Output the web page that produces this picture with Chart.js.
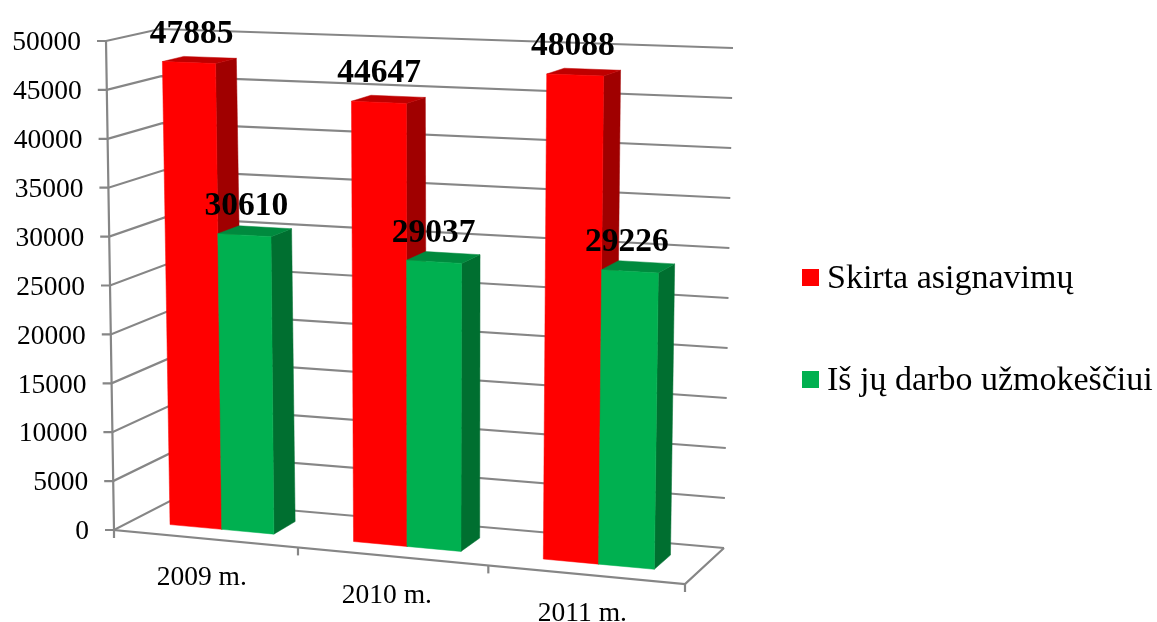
<!DOCTYPE html>
<html><head><meta charset="utf-8">
<style>html,body{margin:0;padding:0;background:#fff}#wrap{width:1157px;height:622px}</style>
<script src="https://cdn.jsdelivr.net/npm/chart.js@4"></script>
</head><body><div id="wrap"><canvas id="c" width="1157" height="622"></canvas></div>
<script>
const categories = ['2009 m.', '2010 m.', '2011 m.'];
const seriesNames = ['Skirta asignavimų', 'Iš jų darbo užmokeščiui'];
const allocated = [47885, 44647, 48088];
const wages = [30610, 29037, 29226];

// Colours: [front, side, top]
const redFaces = ['#FF0000', '#A00000', '#BF0000'];
const greenFaces = ['#00B050', '#006F30', '#008A3E'];
const gridColor = '#868686';
const serif = '"Liberation Serif", serif';

// Picture of the 3D box that frames the plot: [x, y] for each corner
const box = {
  frontBottomLeft: [114, 530], frontBottomRight: [685, 584],
  frontTopLeft: [106, 41], frontTopRight: [693, 62],
  backBottomLeft: [172, 500], backBottomRight: [724, 548],
  backTopLeft: [160, 29], backTopRight: [733, 48]
};
const barDepth = [0.30, 0.70];

const lerp = (a, b, t) => a + (b - a) * t;
const lerp2 = (p, q, t) => [lerp(p[0], q[0], t), lerp(p[1], q[1], t)];
function project(u, v, w) {
  const fb = lerp2(box.frontBottomLeft, box.frontBottomRight, u);
  const ft = lerp2(box.frontTopLeft, box.frontTopRight, u);
  const bb = lerp2(box.backBottomLeft, box.backBottomRight, u);
  const bt = lerp2(box.backTopLeft, box.backTopRight, u);
  return lerp2(lerp2(fb, ft, v), lerp2(bb, bt, v), w);
}
// Perspective corrections along the category axis and the bars' height
const warp = u => u - 0.05 * u * (1 - u);
const warpHeight = v => v * 0.996 - 0.02 * v * (1 - v);

function poly(ctx, pts, color) {
  ctx.beginPath();
  pts.forEach((p, i) => i ? ctx.lineTo(p[0], p[1]) : ctx.moveTo(p[0], p[1]));
  ctx.closePath();
  ctx.fillStyle = color; ctx.strokeStyle = color; ctx.lineWidth = 0.5;
  ctx.fill(); ctx.stroke();
}
function line(ctx, pts) {
  ctx.beginPath();
  pts.forEach((p, i) => i ? ctx.lineTo(p[0], p[1]) : ctx.moveTo(p[0], p[1]));
  ctx.stroke();
}

const perspective = {
  id: 'perspective',
  beforeDatasetsDraw(chart) {
    const ctx = chart.ctx, a = chart.chartArea;
    const yS = chart.scales.y, xS = chart.scales.x;
    const U = px => (px - a.left) / (a.right - a.left);
    const V = py => (a.bottom - py) / (a.bottom - a.top);
    ctx.save();
    // walls and grid
    ctx.strokeStyle = gridColor; ctx.lineWidth = 2.2; ctx.lineCap = 'butt';
    yS.ticks.forEach(t => {
      const v = V(yS.getPixelForValue(t.value));
      const p = project(0, v, 0);
      line(ctx, [[p[0] - 9, p[1]], p, project(0, v, 1), project(1, v, 1)]);
    });
    line(ctx, [project(0, 1, 0), project(0, 0, 0), project(1, 0, 0), project(1, 0, 1)]);
    const nCat = categories.length;
    for (let i = 0; i <= nCat; i++) {
      const p = project(warp(i / nCat), 0, 0);
      line(ctx, [p, [p[0], p[1] + 8]]);
    }
    // bars
    const metas = chart.data.datasets.map((d, i) => chart.getDatasetMeta(i));
    const faces = [redFaces, greenFaces];
    const [w0, w1] = barDepth;
    const front = [];
    categories.forEach((c, ci) => metas.forEach((m, di) => {
      const el = m.data[ci], f = faces[di];
      const u0 = warp(U(el.x - el.width / 2)), u1 = warp(U(el.x + el.width / 2));
      const v = warpHeight(V(el.y)), v0 = V(el.base);
      poly(ctx, [project(u1, v0, w0), project(u1, v0, w1), project(u1, v, w1), project(u1, v, w0)], f[1]);
      poly(ctx, [project(u0, v, w0), project(u0, v, w1), project(u1, v, w1), project(u1, v, w0)], f[2]);
      poly(ctx, [project(u0, v0, w0), project(u1, v0, w0), project(u1, v, w0), project(u0, v, w0)], f[0]);
      const tl = project(u0, v, w0), tr = project(u1, v, w0);
      const drift = lerp(4.5, -3, (u0 + u1) / 2);
      front.push({ x: (tl[0] + tr[0]) / 2 - 1 + drift, y: (tl[1] + tr[1]) / 2 - 20, text: String(chart.data.datasets[di].data[ci]) });
    }));
    // y tick labels
    ctx.fillStyle = '#000'; ctx.font = '27.5px ' + serif;
    ctx.textAlign = 'right'; ctx.textBaseline = 'middle';
    yS.ticks.forEach(t => {
      const p = project(0, V(yS.getPixelForValue(t.value)), 0);
      ctx.fillText(String(t.value), p[0] - 25, p[1] + 2);
    });
    // category labels
    ctx.font = '27.5px ' + serif;
    ctx.textAlign = 'center'; ctx.textBaseline = 'alphabetic';
    categories.forEach((c, i) => {
      const p = project(warp(U(xS.getPixelForValue(i))), 0, 0);
      ctx.fillText(c, p[0] - 3.5 + (i === 1 ? -2 : 0), p[1] + 46.5);
    });
    // value labels
    ctx.font = 'bold 33.5px ' + serif;
    front.forEach(l => ctx.fillText(l.text, l.x, l.y));
    // legend
    const legendX = 802, legendBox = 17, legendY = [269, 371];
    ctx.textAlign = 'left'; ctx.textBaseline = 'alphabetic';
    ctx.font = '34px ' + serif;
    chart.data.datasets.forEach((d, i) => {
      ctx.fillStyle = d.backgroundColor;
      ctx.fillRect(legendX, legendY[i], legendBox, legendBox);
      ctx.fillStyle = '#000';
      ctx.fillText(d.label, legendX + legendBox + 8, legendY[i] + 19);
    });
    ctx.restore();
    return false;
  }
};

new Chart(document.getElementById('c'), {
  type: 'bar',
  data: {
    labels: categories,
    datasets: [
      { label: seriesNames[0], data: allocated, backgroundColor: redFaces[0] },
      { label: seriesNames[1], data: wages, backgroundColor: greenFaces[0] }
    ]
  },
  options: {
    responsive: false, animation: false,
    layout: { padding: { left: 114, right: 472, top: 41, bottom: 92 } },
    datasets: { bar: { barPercentage: 1, categoryPercentage: 0.57 } },
    plugins: { legend: { display: false }, tooltip: { enabled: false }, title: { display: false } },
    scales: {
      x: { display: false },
      y: { display: false, min: 0, max: 50000, ticks: { stepSize: 5000 } }
    }
  },
  plugins: [perspective]
});
</script></body></html>
